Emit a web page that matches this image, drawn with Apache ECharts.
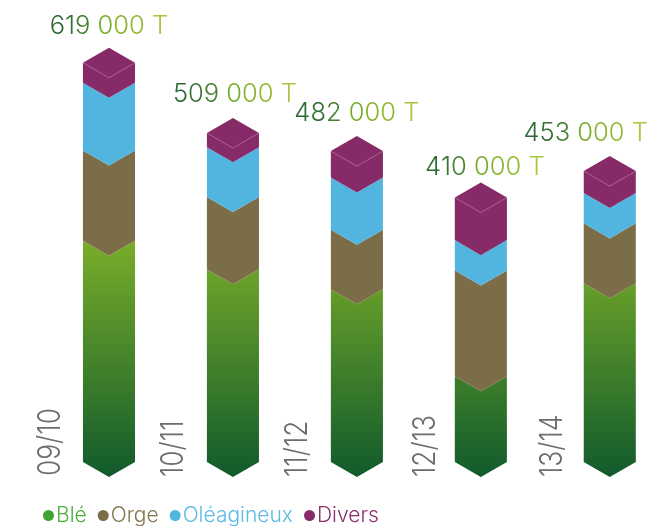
<!DOCTYPE html>
<html><head><meta charset="utf-8">
<style>html,body{margin:0;padding:0;background:#fff}#c{width:652px;height:526px}</style>
<script src="https://cdn.jsdelivr.net/npm/echarts@6/dist/echarts.min.js"></script>
</head><body><div id="c"></div>
<script>
const seasons = ['09/10','10/11','11/12','12/13','13/14'];
const slots = [0,1,2,3,4.04];
const totals = ['619 000 T','509 000 T','482 000 T','410 000 T','453 000 T'];
const ble = [343,299,268,133,277];
const orge = [140,112,92,164,93];
const oleagineux = [105,77,81,47,47];
const divers = [31,22,41,66,34];

const FONT = 'Inter';
const colors = {ble:'#3fa535', orge:'#7c6d49', ole:'#52b5e0', div:'#872a68'};
const textColors = {ble:'#4fae3e', orge:'#85764f', ole:'#5cbbe4', div:'#8a2f6c'};
const totalTextOffset = [[0,-21],[2,-24],[0,-23],[4,-15],[-24,-23]];
const seasonOffset = [[-58,-1],[-59,0],[-59,0],[-55,0],[-57,0]];
const ramp = ['#2b6a35','#367235','#468032','#66a02c','#76ac2a','#86b42c','#8fba2e','#8fba2e','#a6c83e'];
const rich = {}; ramp.forEach((c,i)=>{rich['c'+i]={fill:c,color:c,fontSize:25.5,fontFamily:FONT,fontWeight:300};});
const richText = s => s.split('').map((ch,i)=>`{c${i}|${ch}}`).join('');

const BAR = 0.42;
function chevron(api,x,y0,y1){
  const p0 = api.coord([x,y0]), p1 = api.coord([x,y1]);
  const h = api.size([BAR,0])[0]/2, t = h*Math.tan(Math.PI/6);
  return {cx:p0[0],h,t,y0:p0[1],y1:p1[1]};
}
function poly(g,extraTop){
  const pts=[[g.cx-g.h,g.y1]];
  if(extraTop) pts.push([g.cx,g.y1-g.t]); else pts.push([g.cx,g.y1+g.t]);
  pts.push([g.cx+g.h,g.y1],[g.cx+g.h,g.y0],[g.cx,g.y0+g.t],[g.cx-g.h,g.y0]);
  return pts;
}
function rows(lower,upper){return slots.map((x,i)=>[x,lower[i],lower[i]+upper[i],i]);}
const s0=ble.map(()=>0), s1=ble.slice(), s2=s1.map((v,i)=>v+orge[i]), s3=s2.map((v,i)=>v+oleagineux[i]);

function renderBle(params,api){
  const i=api.value(3), g=chevron(api,api.value(0),api.value(1),api.value(2));
  const top=api.coord([0,Math.max.apply(null,ble)])[1];
  const fill=new echarts.graphic.LinearGradient(0,top,0,g.y0+g.t,[{offset:0,color:'#79ad29'},{offset:1,color:'#115a2c'}],true);
  return {type:'group',children:[
    {type:'polygon',shape:{points:poly(g)},style:{fill}},
    {type:'text',x:g.cx+seasonOffset[i][0],y:g.y0+g.t+seasonOffset[i][1],rotation:Math.PI/2,scaleX:0.85,
     style:{text:seasons[i],fill:'#6d6d6d',fontFamily:FONT,fontWeight:300,fontSize:31,align:'left',verticalAlign:'middle'}}
  ]};
}
function renderFlat(color){return function(params,api){
  const g=chevron(api,api.value(0),api.value(1),api.value(2));
  return {type:'polygon',shape:{points:poly(g)},style:{fill:color}};
};}
function renderDiv(params,api){
  const i=api.value(3), g=chevron(api,api.value(0),api.value(1),api.value(2));
  return {type:'group',children:[
    {type:'polygon',shape:{points:poly(g,true)},style:{fill:colors.div}},
    {type:'polyline',shape:{points:[[g.cx-g.h,g.y1],[g.cx,g.y1+g.t],[g.cx+g.h,g.y1]]},style:{fill:null,stroke:'rgba(255,255,255,0.28)',lineWidth:1}},
    {type:'text',x:g.cx+totalTextOffset[i][0],y:g.y1-g.t+totalTextOffset[i][1],
     style:{text:richText(totals[i]),rich,fontFamily:FONT,fontWeight:300,fontSize:25.5,align:'center',verticalAlign:'middle'}}
  ]};
}
const enc={x:0,y:[1,2]};
const chart=echarts.init(document.getElementById('c'),null,{renderer:'canvas'});
chart.setOption({
  animation:false,
  backgroundColor:'#fff',
  grid:{left:47,right:10,top:10.5,bottom:64},
  xAxis:{type:'value',min:-0.5,max:4.3,show:false},
  yAxis:{type:'value',min:0,max:700,show:false},
  legend:{left:43,top:505,itemWidth:11,itemHeight:11,itemGap:11,padding:0,
    data:[
      {name:'Blé',icon:'circle',itemStyle:{color:colors.ble},textStyle:{color:textColors.ble}},
      {name:'Orge',icon:'circle',itemStyle:{color:colors.orge},textStyle:{color:textColors.orge}},
      {name:'Oléagineux',icon:'circle',itemStyle:{color:colors.ole},textStyle:{color:textColors.ole}},
      {name:'Divers',icon:'circle',itemStyle:{color:colors.div},textStyle:{color:textColors.div}}
    ],
    textStyle:{fontFamily:FONT,fontWeight:300,fontSize:21,padding:[0,0,0,-3]}
  },
  series:[
    {type:'custom',name:'Blé',data:rows(s0,ble),encode:enc,renderItem:renderBle,itemStyle:{color:colors.ble},clip:false},
    {type:'custom',name:'Orge',data:rows(s1,orge),encode:enc,renderItem:renderFlat(colors.orge),itemStyle:{color:colors.orge},clip:false},
    {type:'custom',name:'Oléagineux',data:rows(s2,oleagineux),encode:enc,renderItem:renderFlat(colors.ole),itemStyle:{color:colors.ole},clip:false},
    {type:'custom',name:'Divers',data:rows(s3,divers),encode:enc,renderItem:renderDiv,itemStyle:{color:colors.div},clip:false}
  ]
});
</script></body></html>
